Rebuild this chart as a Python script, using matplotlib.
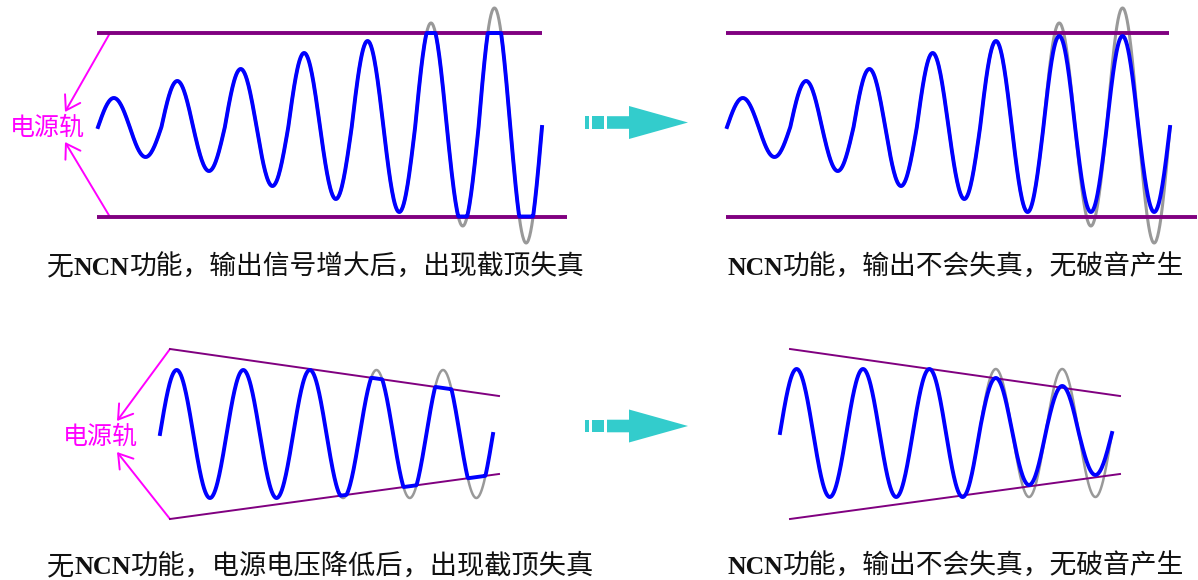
import numpy as np
import matplotlib
matplotlib.use("Agg")
import matplotlib.pyplot as plt
from matplotlib import patches

# ---- data (pixel units, y grows downward) ----
# half-cycle amplitudes: peak, trough, peak, trough ...
top_in_amp = [29, 30, 46, 44, 58, 59, 74, 72, 86, 85, 104, 99, 119, 116]
top_ncn_amp = [29, 30, 46, 44, 58, 59, 74, 72, 86, 85, 91, 85, 91, 85]
bot_in_amp = [64, 64, 64, 64, 64, 64, 64, 64, 64, 64]
bot_ncn_amp = [64, 64, 64, 64, 64, 64, 55, 52, 47, 42]

rail_label = "电源轨"
captions = [
    ("无", "NCN", "功能，输出信号增大后，出现截顶失真"),
    ("", "NCN", "功能，输出不会失真，无破音产生"),
    ("无", "NCN", "功能，电源电压降低后，出现截顶失真"),
    ("", "NCN", "功能，输出不会失真，无破音产生"),
]

CJK = ["Noto Sans CJK SC", "DejaVu Sans"]
SERIF = ["Liberation Serif", "DejaVu Serif"]
BLUE = "#0000ff"
GRAY = "#999999"
PURPLE = "#800080"
MAGENTA = "#ff00ff"
CYAN = "#33cccc"

fig = plt.figure(figsize=(11.98, 5.8), dpi=100)
ax = fig.add_axes([0, 0, 1, 1])
ax.set_xlim(0, 1198)
ax.set_ylim(580, 0)
ax.axis("off")


def wave(x0, x1, center, amps, n=60):
    half = (x1 - x0) / len(amps)
    xs, ys = [], []
    for k, a in enumerate(amps):
        t = np.linspace(0, 1, n)
        sign = 1 if k % 2 == 0 else -1
        xs.append(x0 + (k + t) * half)
        ys.append(center - sign * a * np.sin(np.pi * t))
    return np.concatenate(xs), np.concatenate(ys)


# ---- top left: clipping on fixed rails ----
ax.plot([97, 542], [33, 33], color=PURPLE, lw=2.8, solid_capstyle="butt")
ax.plot([97, 567], [216.5, 216.5], color=PURPLE, lw=2.8, solid_capstyle="butt")
x, y = wave(98, 542, 127, top_in_amp)
ax.plot(x, y, color=GRAY, lw=2.2, zorder=1)
ax.plot(x, np.clip(y, 33, 216.5), color=BLUE, lw=2.8, zorder=3)

# ---- top right: NCN ----
ax.plot([726, 1169], [33, 33], color=PURPLE, lw=2.8, solid_capstyle="butt")
ax.plot([726, 1197], [216.5, 216.5], color=PURPLE, lw=2.8, solid_capstyle="butt")
x, y = wave(727, 1170, 127, top_in_amp)
ax.plot(x, y, color=GRAY, lw=2.2, zorder=1)
x, y = wave(727, 1170, 127, top_ncn_amp)
ax.plot(x, y, color=BLUE, lw=2.8, zorder=3)

# ---- bottom left: sinking supply rails ----
up_l = ((170, 499), (349, 396))
lo_l = ((170, 499), (519, 474))
ax.plot(*up_l, color=PURPLE, lw=1.4)
ax.plot(*lo_l, color=PURPLE, lw=1.4)
x, y = wave(160, 493, 434, bot_in_amp)
ax.plot(x, y, color=GRAY, lw=1.8, zorder=1)
top_r = np.interp(x, up_l[0], up_l[1])
bot_r = np.interp(x, lo_l[0], lo_l[1])
ax.plot(x, np.minimum(np.maximum(y, top_r), bot_r), color=BLUE, lw=2.8, zorder=3)

# ---- bottom right: NCN ----
ax.plot((790, 1120), (349, 396), color=PURPLE, lw=1.4)
ax.plot((790, 1120), (519, 474), color=PURPLE, lw=1.4)
x, y = wave(780, 1112, 433, bot_in_amp)
ax.plot(x, y, color=GRAY, lw=1.8, zorder=1)
x, y = wave(780, 1112, 433, bot_ncn_amp)
ax.plot(x, y, color=BLUE, lw=2.8, zorder=3)

# ---- rail labels with arrows ----
for (lx, ly), starts, tips in [
    ((47, 128), [(110, 33), (110, 217)], [(65, 112), (65, 142)]),
    ((100, 437), [(170, 349), (170, 519)], [(117, 421), (117, 452)]),
]:
    ax.text(lx, ly, rail_label, color=MAGENTA, fontsize=18, family=CJK,
            ha="center", va="center")
    for s, t in zip(starts, tips):
        ax.add_patch(patches.FancyArrowPatch(s, t, arrowstyle="->,head_length=0.7,head_width=0.45",
                                             mutation_scale=14, color=MAGENTA, lw=1.4,
                                             shrinkA=0, shrinkB=0))

# ---- cyan arrows ----
for cy in [122.5, 426]:
    ax.add_patch(patches.Rectangle((585, cy - 6.3), 4, 12.6, color=CYAN, lw=0))
    ax.add_patch(patches.Rectangle((592, cy - 6.3), 11.5, 12.6, color=CYAN, lw=0))
    ax.add_patch(patches.Polygon([(607, cy - 6.3), (629, cy - 6.3), (629, cy - 16.5),
                                  (688, cy), (629, cy + 16.5), (629, cy + 6.3), (607, cy + 6.3)],
                                 closed=True, color=CYAN, lw=0))

# ---- captions ----
renderer = fig.canvas.get_renderer()
for (pre, bold, rest), (cx, cy, size) in zip(
        captions, [(47, 275, 19.3), (727, 275, 19.3), (47, 574, 19.6), (727, 574, 19.3)]):
    xx = cx
    for s, fam, w, sz in [(pre, CJK, "normal", size), (bold, SERIF, "bold", size * 0.96),
                          (rest, CJK, "normal", size)]:
        if not s:
            continue
        t = ax.text(xx, cy, s, family=fam, fontweight=w, fontsize=sz, color="#111111",
                    ha="left", va="baseline")
        xx += t.get_window_extent(renderer).width

fig.savefig("out.png", dpi=100)
